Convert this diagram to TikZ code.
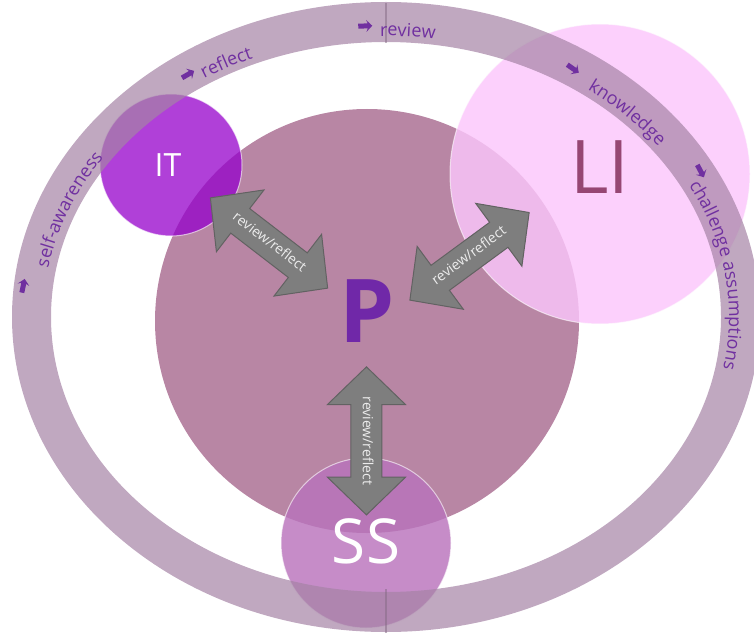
\documentclass[tikz,border=0pt]{standalone}
\usepackage{fontspec}
\setmainfont{Open Sans}
\usetikzlibrary{positioning, calc, shapes.arrows, decorations.text}

\definecolor{pfill}{RGB}{184,134,164}
\definecolor{itfill}{RGB}{149,0,203}
\definecolor{lifill}{RGB}{251,198,251}
\definecolor{ssfill}{RGB}{185,115,188}
\definecolor{ringfill}{RGB}{165,131,165}
\definecolor{ringtext}{RGB}{112,48,160}
\definecolor{ptext}{RGB}{112,40,168}
\definecolor{litext}{RGB}{150,70,115}
\definecolor{arrowgray}{RGB}{126,126,126}
\definecolor{arrowedge}{RGB}{98,98,98}
\definecolor{arrowtext}{RGB}{236,236,236}

\begin{document}
\begin{tikzpicture}[x=1pt, y=1pt,
    blob/.style={circle, inner sep=0pt, text opacity=1, draw=white, draw opacity=.6, line width=1pt},
    twoway/.style={double arrow, double arrow head extend=23.5pt, double arrow tip angle=92,
        minimum height=148pt, minimum width=0pt, inner xsep=4pt, inner ysep=8.5pt,
        text height=10pt, text depth=3pt, fill=arrowgray, draw=arrowedge, line width=1pt,
        text=arrowtext, font=\fontsize{14}{15}\selectfont},
    ringlab/.style={decorate, decoration={text along path, text color=ringtext,
        text={|\fontsize{18}{20}\selectfont|#1}}},
    ringtip/.style={single arrow, fill=ringtext, minimum height=14pt, minimum width=0pt,
        inner sep=2.3pt, single arrow head extend=3.5pt, single arrow head indent=1.5pt}]
    \useasboundingbox (0,0) rectangle (754,633);
    \clip (0,0) rectangle (754,633);
    \coordinate (C) at (386,316);

    % circles
    \node[blob, minimum size=424, fill=pfill, draw=none] (P) at (367,312) {};
    \node[blob, minimum size=142, fill=itfill, fill opacity=.75] (IT) at (171,468) {};
    \node[blob, minimum size=300, fill=lifill, fill opacity=.82] (LI) at (600,459) {};
    \node[blob, minimum size=170, fill=ssfill, fill opacity=.82] (SS) at (366,90) {};

    % outer ring
    \fill[ringfill, fill opacity=.7, even odd rule] (C) ellipse[x radius=374, y radius=315]
        (C) ellipse[x radius=335, y radius=275];
    \draw[ringfill!80!black, line width=1.5pt, opacity=.5] (386,590) -- (386,630);
    \draw[ringfill!80!black, line width=1.5pt, opacity=.5] (386,0) -- (386,44);

    % ring labels
    \path[ringlab={self-awareness}] (C) ++(170:343 and 281) arc[start angle=170, end angle=110, x radius=343, y radius=281];
    \path[ringlab={reflect}] (C) ++(122:343 and 281) arc[start angle=122, end angle=80, x radius=343, y radius=281];
    \path[ringlab={review}] (C) ++(91:343 and 281) arc[start angle=91, end angle=60, x radius=343, y radius=281];
    \path[ringlab={knowledge}] (C) ++(54:343 and 281) arc[start angle=54, end angle=20, x radius=343, y radius=281];
    \path[ringlab={challenge assumptions}] (C) ++(28:343 and 281) arc[start angle=28, end angle=-40, x radius=343, y radius=281];

    \node[ringtip, rotate=78] (tSelf) at (23,346) {};
    \node[ringtip, rotate=30] (tRefl) at (187,558) {};
    \node[ringtip, rotate=2] (tRev) at (364,607) {};
    \node[ringtip, rotate=-35] (tKnow) at (572,565) {};
    \node[ringtip, rotate=-62] (tChal) at (700,463) {};

    % review/reflect arrows
    \node[twoway, rotate=-37.6] (arIT) at ($(IT)!.5!(P)$) {review/reflect};
    \node[twoway, rotate=36.3] (arLI) at ($(P)!.44!(LI)$) {review/reflect};
    \node[twoway, rotate=-90] (arSS) at ($(P)!.54!(SS)$) {review/reflect};

    % labels
    \node[text=ptext, font=\bfseries\fontsize{88}{88}\selectfont, inner sep=0pt] (Ptext) at ([yshift=9.5]P.center) {P};
    \node[text=white, font=\fontsize{32}{32}\selectfont, inner sep=0pt] (ITtext) at ([xshift=-3]IT.center) {IT};
    \node[text=litext, font=\fontsize{74}{74}\selectfont, inner sep=0pt] (LItext) at ([yshift=7]LI.center) {LI};
    \node[text=white, font=\fontsize{62}{62}\selectfont, inner sep=0pt] (SStext) at ([yshift=2]SS.center) {SS};
\end{tikzpicture}
\end{document}
